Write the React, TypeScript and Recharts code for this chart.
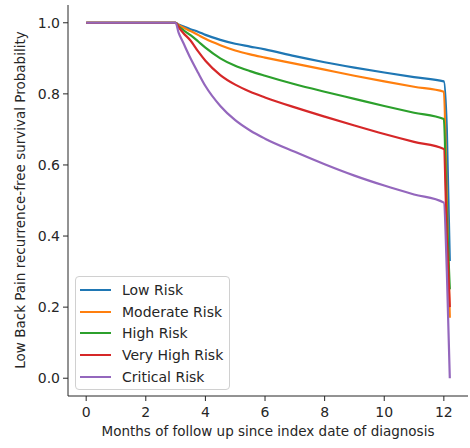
import React from 'react';
import { LineChart, Line, XAxis, YAxis } from 'recharts';

const months = [0, 3, 3.1, 3.25, 3.5, 3.75, 4, 4.5, 5, 5.5, 6, 7, 8, 9, 10, 11, 12, 12.1, 12.2];
const lowRisk = [1, 1, 0.995, 0.99, 0.982, 0.975, 0.966, 0.952, 0.941, 0.933, 0.925, 0.906, 0.889, 0.874, 0.86, 0.847, 0.835, 0.7, 0.33];
const moderateRisk = [1, 1, 0.994, 0.987, 0.977, 0.966, 0.955, 0.937, 0.922, 0.911, 0.902, 0.885, 0.868, 0.851, 0.835, 0.82, 0.806, 0.5, 0.17];
const highRisk = [1, 1, 0.99, 0.98, 0.965, 0.948, 0.93, 0.9, 0.879, 0.864, 0.851, 0.827, 0.806, 0.786, 0.766, 0.747, 0.729, 0.45, 0.25];
const veryHighRisk = [1, 1, 0.988, 0.972, 0.95, 0.92, 0.893, 0.853, 0.826, 0.806, 0.79, 0.762, 0.736, 0.711, 0.687, 0.665, 0.645, 0.4, 0.2];
const criticalRisk = [1, 1, 0.972, 0.945, 0.9, 0.86, 0.822, 0.766, 0.726, 0.697, 0.674, 0.637, 0.602, 0.57, 0.542, 0.517, 0.494, 0.3, 0];

const xTicks = [0, 2, 4, 6, 8, 10, 12];
const yTicks = [0, 0.2, 0.4, 0.6, 0.8, 1.0];

const series = [
  { key: 'low', name: 'Low Risk', values: lowRisk, color: '#1f77b4' },
  { key: 'moderate', name: 'Moderate Risk', values: moderateRisk, color: '#ff7f0e' },
  { key: 'high', name: 'High Risk', values: highRisk, color: '#2ca02c' },
  { key: 'veryHigh', name: 'Very High Risk', values: veryHighRisk, color: '#d62728' },
  { key: 'critical', name: 'Critical Risk', values: criticalRisk, color: '#9467bd' },
];

const data = months.map((t, i) => {
  const row: Record<string, number> = { t };
  series.forEach((s) => {
    row[s.key] = s.values[i];
  });
  return row;
});

const FONT = '"DejaVu Sans", sans-serif';
const INK = '#262626';

function LegendBox() {
  return (
    <div
      style={{
        position: 'absolute',
        left: 75,
        top: 276,
        width: 155,
        boxSizing: 'border-box',
        padding: '2px 0 2px 0',
        border: '1px solid #d0d0d0',
        borderRadius: 4,
        background: 'rgba(255,255,255,0.8)',
        fontFamily: FONT,
        fontSize: 14,
        color: INK,
      }}
    >
      {series.map((s) => (
        <div key={s.key} style={{ display: 'flex', alignItems: 'center', height: 21.7 }}>
          <span style={{ display: 'inline-block', width: 31, height: 2, marginLeft: 4, marginRight: 11, background: s.color }} />
          <span>{s.name}</span>
        </div>
      ))}
    </div>
  );
}

export default function App() {
  return (
    <div style={{ position: 'absolute', left: 0, top: 0, width: 470, height: 448, background: '#fff' }}>
      <LineChart width={470} height={448} data={data} margin={{ top: 5, right: 2, left: 0, bottom: 0 }}>
        <XAxis
          dataKey="t"
          type="number"
          domain={[-0.61, 12.81]}
          ticks={xTicks}
          allowDataOverflow
          height={52}
          tickSize={5}
          tickMargin={6}
          stroke={INK}
          tick={{ fill: INK, fontSize: 14, fontFamily: FONT }}
          label={{
            value: 'Months of follow up since index date of diagnosis',
            position: 'insideBottom',
            offset: 12,
            fill: INK,
            fontSize: 13.5,
            fontFamily: FONT,
          }}
        />
        <XAxis xAxisId="top" orientation="top" dataKey="t" type="number" domain={[-0.61, 12.81]} height={0} tick={false} tickLine={false} stroke={INK} />
        <YAxis
          domain={[-0.05, 1.05]}
          ticks={yTicks}
          allowDataOverflow
          width={68}
          tickSize={5}
          tickMargin={3}
          stroke={INK}
          tickFormatter={(v: number) => v.toFixed(1)}
          tick={{ fill: INK, fontSize: 14, fontFamily: FONT }}
          label={{
            position: 'center',
            content: () => (
              <text
                x={20}
                y={200}
                transform="rotate(-90 20 200)"
                textAnchor="middle"
                dominantBaseline="central"
                fill={INK}
                fontSize={13.5}
                fontFamily={FONT}
              >
                Low Back Pain recurrence-free survival Probability
              </text>
            ),
          }}
        />
        <YAxis yAxisId="right" orientation="right" domain={[-0.05, 1.05]} width={0} tick={false} tickLine={false} stroke={INK} />
        {series.map((s) => (
          <Line
            key={s.key}
            dataKey={s.key}
            name={s.name}
            type="monotone"
            stroke={s.color}
            strokeWidth={2.2}
            dot={false}
            isAnimationActive={false}
          />
        ))}
      </LineChart>
      <LegendBox />
    </div>
  );
}
